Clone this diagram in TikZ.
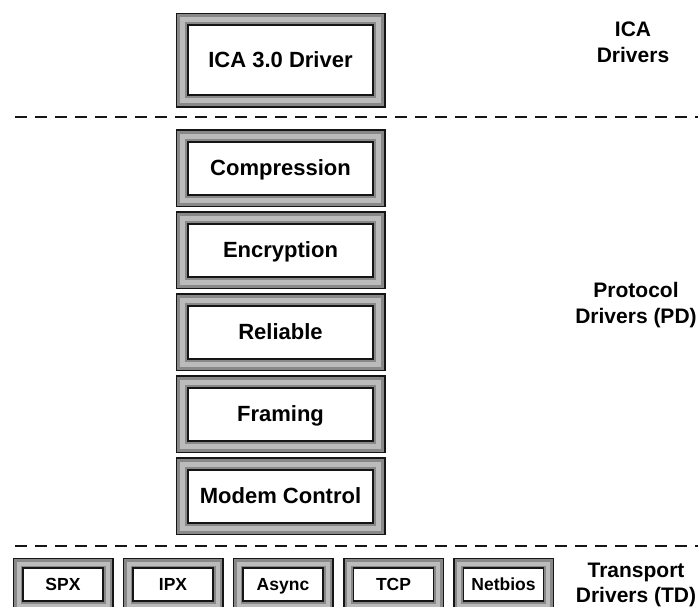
\documentclass[tikz,border=0pt]{standalone}
\usepackage{fontspec}
\setmainfont{Liberation Sans}
\definecolor{midgray}{HTML}{888888}
\definecolor{lightgray2}{HTML}{BBBBBB}
\definecolor{ink}{HTML}{151515}
\tikzset{
  bigbox/.style={draw=ink, line width=2pt, fill=white, inner sep=0pt,
    minimum width=185pt, minimum height=53pt,
    text height=15.8pt, text depth=0pt,
    font=\fontsize{22}{26}\selectfont\bfseries,
    preaction={draw=ink, line width=25pt},
    preaction={draw=midgray, line width=22pt},
    preaction={draw=lightgray2, line width=16pt},
    preaction={draw=midgray, line width=6pt}},
  smallbox/.style={draw=ink, line width=1.8pt, fill=white, inner sep=0pt,
    minimum width=80pt, minimum height=33pt,
    text height=12.6pt, text depth=0pt,
    font=\fontsize{17.5}{20}\selectfont\bfseries,
    preaction={draw=ink, line width=21pt},
    preaction={draw=midgray, line width=18pt},
    preaction={draw=lightgray2, line width=13pt},
    preaction={draw=midgray, line width=5pt}},
  layerlabel/.style={align=center, inner sep=0pt,
    font=\fontsize{21}{25.5}\selectfont\bfseries},
  separator/.style={draw=ink, line width=2.6pt, dash pattern=on 12pt off 8pt}
}
\begin{document}
\begin{tikzpicture}[x=1pt,y=-1pt]
\useasboundingbox (0,0) rectangle (698,606);
\clip (0,0) rectangle (698,606);
% ICA driver
\node[bigbox, minimum height=70pt] (ica) at (280.5,60) {ICA 3.0 Driver};
% separators
\coordinate (s1a) at (15,117);
\coordinate (s1b) at (698,117);
\coordinate (s2a) at (15,546);
\coordinate (s2b) at (698,546);
\draw[separator] (s1a) -- (s1b);
\draw[separator] (s2a) -- (s2b);
% protocol drivers
\node[bigbox] (comp) at (280.5,168) {Compression};
\node[bigbox] (encr) at (280.5,250) {Encryption};
\node[bigbox] (reli) at (280.5,332) {Reliable};
\node[bigbox] (fram) at (280.5,414) {Framing};
\node[bigbox] (modem) at (280.5,496) {Modem Control};
% transport drivers
\node[smallbox] (spx) at (63,584.5) {SPX};
\node[smallbox] (ipx) at (173,584.5) {IPX};
\node[smallbox] (async) at (283,584.5) {Async};
\node[smallbox] (tcp) at (393.5,584.5) {TCP};
\node[smallbox] (netbios) at (503.5,584.5) {Netbios};
% labels
\node[layerlabel] (lica) at (633,42.5) {ICA\\Drivers};
\node[layerlabel] (lpd) at (636,305) {Protocol\\Drivers (PD)};
\node[layerlabel] (ltd) at (636,585) {Transport\\Drivers (TD)};
\end{tikzpicture}
\end{document}
